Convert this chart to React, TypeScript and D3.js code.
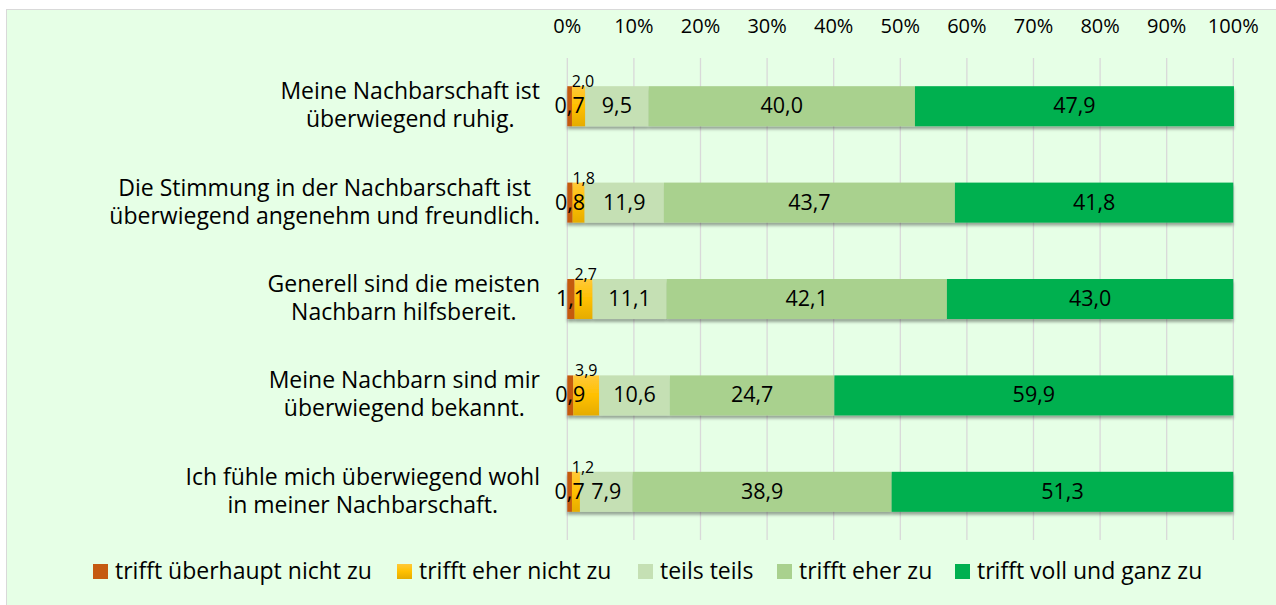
import React from "react";
import * as d3 from "d3";

const categories: string[][] = [
  ["Meine Nachbarschaft ist", "überwiegend ruhig."],
  ["Die Stimmung in der Nachbarschaft ist", "überwiegend angenehm und freundlich."],
  ["Generell sind die meisten", "Nachbarn hilfsbereit."],
  ["Meine Nachbarn sind mir", "überwiegend bekannt."],
  ["Ich fühle mich überwiegend wohl", "in meiner Nachbarschaft."],
];
const seriesNames = [
  "trifft überhaupt nicht zu",
  "trifft eher nicht zu",
  "teils teils",
  "trifft eher zu",
  "trifft voll und ganz zu",
];
const s1 = [0.7, 0.8, 1.1, 0.9, 0.7];
const s2 = [2.0, 1.8, 2.7, 3.9, 1.2];
const s3 = [9.5, 11.9, 11.1, 10.6, 7.9];
const s4 = [40.0, 43.7, 42.1, 24.7, 38.9];
const s5 = [47.9, 41.8, 43.0, 59.9, 51.3];
const ticks = [0, 10, 20, 30, 40, 50, 60, 70, 80, 90, 100];

const colors = ["#c55a11", "url(#yellowGrad)", "#c5e0b4", "#a9d18e", "#00b050"];

const font = "'Open Sans', 'Noto Sans', sans-serif";

let ctx: CanvasRenderingContext2D | null = null;
function measure(t: string, size: number): number {
  if (!ctx) ctx = document.createElement("canvas").getContext("2d");
  if (!ctx) return t.length * size * 0.55;
  ctx.font = `${size}px 'Open Sans'`;
  return ctx.measureText(t).width;
}

export default function App() {
  const W = 1276, H = 605;
  const x = d3.scaleLinear().domain([0, 100]).range([567.3, 1233.3]);
  const y = d3.scaleBand<number>().domain(d3.range(5)).range([58, 540]).paddingInner(0.585).paddingOuter(0.2925);
  const series = [s1, s2, s3, s4, s5];
  const stack = d3.stack<number>().keys(["0", "1", "2", "3", "4"]).value((i, k) => series[+k][i]);
  const stacked = stack(d3.range(5));
  const bh = y.bandwidth();
  const fmt = (v: number) => v.toFixed(1).replace(".", ",");
  const legendX = [93, 397, 638, 777, 955];
  const catSize = 23;

  return (
    <svg width={W} height={H} style={{ position: "absolute", left: 0, top: 0 }} fontFamily={font}>
      <defs>
        <linearGradient id="yellowGrad" x1="0" y1="0" x2="0" y2="1">
          <stop offset="0" stopColor="#ffc93a" />
          <stop offset="0.5" stopColor="#ffc000" />
          <stop offset="1" stopColor="#e5ac00" />
        </linearGradient>
        <filter id="shadow" x="-5%" y="-20%" width="110%" height="160%">
          <feDropShadow dx="0" dy="3" stdDeviation="1.5" floodColor="#000" floodOpacity="0.35" />
        </filter>
      </defs>
      <rect x={6.5} y={9.5} width={1300} height={620} fill="#e6ffe6" stroke="#d9d9d9" strokeWidth={1} />
      {ticks.map((t) => (
        <g key={t}>
          <line x1={x(t)} x2={x(t)} y1={58} y2={540} stroke="#d9d9d9" strokeWidth={1.3} />
          <text x={x(t)} y={33} textAnchor="middle" fontSize={20} fill="#000">{t}%</text>
        </g>
      ))}
      {d3.range(5).map((i) => (
        <g key={i} filter="url(#shadow)">
          {stacked.map((s, k) => (
            <rect key={k} x={x(s[i][0])} y={y(i)!} width={x(s[i][1]) - x(s[i][0])} height={bh} fill={colors[k]} />
          ))}
        </g>
      ))}
      {d3.range(5).map((i) =>
        stacked.map((s, k) => {
          const a = s[i][0], b = s[i][1];
          const cy = y(i)! + bh / 2;
          if (k === 1) {
            const cx = Math.max((x(a) + x(b)) / 2, x(a) + 11);
            return (
              <text key={`l${i}${k}`} x={cx} y={y(i)! + 1} textAnchor="middle" fontSize={16} fill="#000">{fmt(series[k][i])}</text>
            );
          }
          return (
            <text key={`l${i}${k}`} x={(x(a) + x(b)) / 2} y={cy + 7} textAnchor="middle" fontSize={21.5} fill="#000">{fmt(series[k][i])}</text>
          );
        })
      )}
      {categories.map((lines, i) => {
        const cy = y(i)! + bh / 2;
        const wmax = Math.max(...lines.map((l) => measure(l, catSize)));
        const cx = 540 - wmax / 2;
        return (
          <text key={i} textAnchor="middle" fontSize={catSize} fill="#000">
            <tspan x={cx} y={cy - 7}>{lines[0]}</tspan>
            <tspan x={cx} y={cy + 21}>{lines[1]}</tspan>
          </text>
        );
      })}
      {seriesNames.map((n, k) => (
        <g key={n}>
          <rect x={legendX[k]} y={564} width={15} height={15} fill={colors[k]} />
          <text x={legendX[k] + 22} y={579} fontSize={23} fill="#000">{n}</text>
        </g>
      ))}
    </svg>
  );
}
